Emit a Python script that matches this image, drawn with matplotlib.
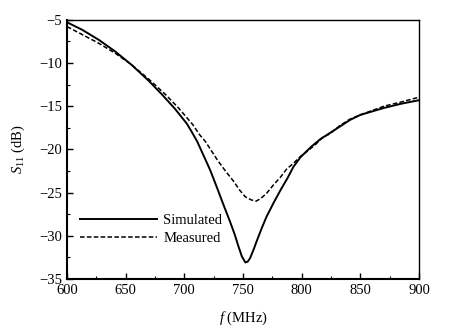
import matplotlib
matplotlib.use("Agg")
import matplotlib.pyplot as plt
from matplotlib.ticker import MultipleLocator

plt.rcParams['font.family'] = ['Liberation Serif', 'DejaVu Serif']
plt.rcParams['mathtext.fontset'] = 'custom'
plt.rcParams['mathtext.rm'] = 'Liberation Serif'
plt.rcParams['mathtext.it'] = 'Liberation Serif:italic'

sim_f = [600, 613, 627, 641, 655, 670, 681, 692, 702, 706, 711, 716, 722, 728, 733, 739, 743, 746, 749, 752,
         754, 756, 759, 762, 766, 770, 776, 782, 788, 793, 799, 808, 816, 824, 832, 841, 850, 860, 870, 885, 900]
sim_db = [-5.27, -6.15, -7.3, -8.65, -10.2, -12.1, -13.65, -15.3, -17.0, -17.9, -19.1, -20.6, -22.4, -24.5, -26.3, -28.4, -29.9,
          -31.2, -32.4, -33.1, -33.0, -32.6, -31.6, -30.5, -29.1, -27.8, -26.2, -24.7, -23.3, -22.0, -20.9, -19.7, -18.8, -18.1,
          -17.4, -16.6, -16.0, -15.6, -15.2, -14.7, -14.3]
meas_f = [600, 613, 627, 641, 655, 670, 684, 695, 707, 713, 718, 728, 735, 742, 747, 752, 757, 761, 765, 770,
          776, 782, 787, 793, 799, 804, 812, 818, 824, 832, 841, 850, 860, 870, 885, 900]
meas_db = [-5.77, -6.7, -7.7, -8.85, -10.2, -11.9, -13.65, -15.2, -17.1, -18.3, -19.1, -21.2, -22.5, -23.7, -24.7, -25.5, -25.85,
           -26.0, -25.7, -25.1, -24.1, -23.2, -22.3, -21.6, -20.8, -20.3, -19.4, -18.6, -18.2, -17.3, -16.5, -16.0, -15.5, -15.0,
           -14.5, -13.95]

fig = plt.figure(figsize=(4.59, 3.32), dpi=100)
ax = fig.add_axes([0.146, 0.160, 0.767, 0.780])
ax.plot(sim_f, sim_db, color='black', lw=1.4, label='Simulated')
ax.plot(meas_f, meas_db, color='black', lw=1.1, ls=(0, (3, 1.5)), label='Measured')

ax.set_xlim(600, 900)
ax.set_ylim(-35, -5)
ax.xaxis.set_major_locator(MultipleLocator(50))
ax.xaxis.set_minor_locator(MultipleLocator(25))
ax.yaxis.set_major_locator(MultipleLocator(5))
ax.yaxis.set_minor_locator(MultipleLocator(2.5))
ax.tick_params(which='both', direction='in', top=False, right=False, labelsize=10.5)
ax.tick_params(which='major', length=4, width=1)
ax.tick_params(which='minor', length=2.5, width=0.8)
for s in ax.spines.values():
    s.set_linewidth(1.0)
ax.spines['bottom'].set_linewidth(1.5)
ax.spines['left'].set_linewidth(1.5)

ax.set_xlabel(r'$\it{f}$ (MHz)', fontsize=10.5, labelpad=9)
ax.set_ylabel(r'$\it{S}_{11}$ (dB)', fontsize=10.5, labelpad=9)

ax.legend(loc='lower left', bbox_to_anchor=(0.0, 0.08), frameon=False, fontsize=10.5,
          handlelength=5.3, handletextpad=0.4, labelspacing=0.3)

fig.savefig('out.png', dpi=100)
